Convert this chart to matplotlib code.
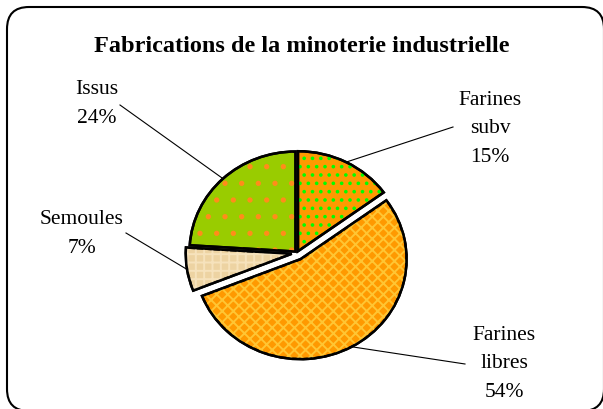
import numpy as np
import matplotlib.pyplot as plt
from matplotlib.patches import FancyBboxPatch, Wedge
from matplotlib.transforms import IdentityTransform

labels = ['Farines\nsubv', 'Farines\nlibres', 'Semoules', 'Issus']
values = [15, 54, 7, 24]
colors = ['#FF9900', '#FF9900', '#EDD3A2', '#99CC00']
hatch_colors = ['#00FF00', '#FFC533', '#F6E2BC', '#FF8C1A']
hatches = ['..', 'xxx', '++', '.']
explode = [0.02, 0.07, 0.05, 0.02]

# label centres and leader line ends in pixels (x from left, y from top)
label_px = [(490, 129), (504, 364), (82, 234), (97, 104)]
line_px = [(453, 128), (465, 365), (126, 234), (120, 106)]

plt.rcParams['font.family'] = ['Liberation Serif', 'DejaVu Serif']

W, H = 603, 410
cx, cy, RX, RY = 297, 254, 106, 100
fig = plt.figure(figsize=(W / 100, H / 100), dpi=100)
fig.patches.append(FancyBboxPatch((7, -2), 597, H - 8 + 2,
                                  boxstyle='round,pad=0,rounding_size=22',
                                  transform=IdentityTransform(), fc='white',
                                  ec='black', lw=1.5, zorder=-5))
ax = fig.add_axes([0, 0, 1, 1])
ax.patch.set_visible(False)


def px(p):
    return ((p[0] - cx) / RX, (cy - p[1]) / RY)


wedges, _ = ax.pie(values, colors=colors, explode=explode, startangle=90,
                   counterclock=False, radius=1,
                   wedgeprops=dict(edgecolor='black', linewidth=1.8))
ax.set_xlim(-cx / RX, (W - cx) / RX)
ax.set_ylim(-(H - cy) / RY, cy / RY)
ax.set_aspect('auto')
ax.axis('off')
plt.rcParams['hatch.linewidth'] = 1.4
for w, hc, h in zip(wedges, hatch_colors, hatches):
    ax.add_patch(Wedge(w.center, w.r, w.theta1, w.theta2,
                       fc='none', ec=hc, hatch=h, lw=0))
    ax.add_patch(Wedge(w.center, w.r, w.theta1, w.theta2,
                       fc='none', ec='black', lw=1.8))

for w, lab, v, lp, le in zip(wedges, labels, values, label_px, line_px):
    ang = np.deg2rad((w.theta1 + w.theta2) / 2)
    x0 = w.center[0] + w.r * np.cos(ang)
    y0 = w.center[1] + w.r * np.sin(ang)
    x1, y1 = px(le)
    ax.plot([x0, x1], [y0, y1], color='black', lw=0.8)
    tx, ty = px(lp)
    ax.text(tx, ty, f'{lab}\n{v}%', ha='center', va='center', fontsize=15.5,
            linespacing=1.68)

fig.text(0.5, (H - 47) / H, 'Fabrications de la minoterie industrielle',
         ha='center', va='center', fontsize=17.5, fontweight='bold')

fig.savefig('out.png', dpi=100)
